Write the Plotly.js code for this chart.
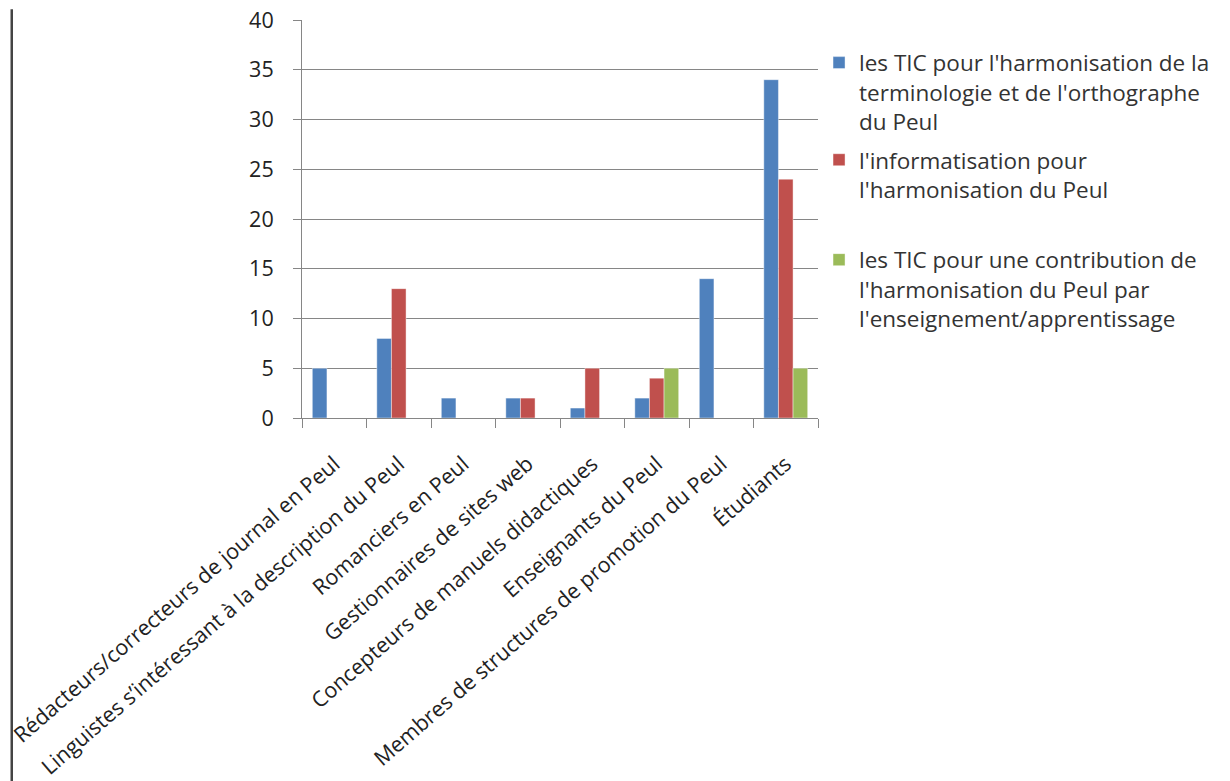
<!DOCTYPE html>
<html>
<head>
<meta charset="utf-8">
<script src="https://cdn.plot.ly/plotly-3.0.1.min.js"></script>
<style>
  html, body { margin: 0; padding: 0; background: #fff; }
  #chart { width: 1230px; height: 781px; }
</style>
</head>
<body>
<div id="chart"></div>
<script>
// Catégories de répondants
const categories = [
  "Rédacteurs/correcteurs de journal en Peul",
  "Linguistes s\u2019intéressant à la description du Peul",
  "Romanciers en Peul",
  "Gestionnaires de sites web",
  "Concepteurs de manuels didactiques",
  "Enseignants du Peul",
  "Membres de structures de promotion du Peul",
  "Étudiants"
];

// Noms des séries
const seriesNames = [
  "les TIC pour l'harmonisation de la<br>terminologie et de l'orthographe<br>du Peul",
  "l'informatisation pour<br>l'harmonisation du Peul",
  "les TIC pour une contribution de<br>l'harmonisation du Peul par<br>l'enseignement/apprentissage"
];

// Effectifs par série
const ticHarmonisation = [5, 8, 2, 2, 1, 2, 14, 34];
const informatisation  = [0, 13, 0, 2, 5, 4, 0, 24];
const ticEnseignement  = [0, 0, 0, 0, 0, 5, 0, 5];

const colors = ["#4F81BD", "#C0504D", "#9BBB59"];
const FONT = "Open Sans, DejaVu Sans, sans-serif";

const values = [ticHarmonisation, informatisation, ticEnseignement];
const legendIds = ["legend", "legend2", "legend3"];

const traces = values.map((v, i) => ({
  type: "bar",
  x: categories,
  y: v,
  name: seriesNames[i],
  legend: legendIds[i],
  showlegend: true,
  marker: { color: colors[i], line: { width: 0.6, color: "rgba(255,255,255,0.7)" } },
  hoverinfo: "x+y"
}));

const legendBase = {
  xanchor: "left",
  yanchor: "top",
  x: 1.002,
  bgcolor: "rgba(0,0,0,0)",
  borderwidth: 0,
  valign: "top",
  itemwidth: 30,
  font: { family: FONT, size: 22.5, color: "#333" }
};

const layout = {
  width: 1230,
  height: 781,
  showlegend: true,
  margin: { l: 302, r: 412, t: 20, b: 363, pad: 0 },
  paper_bgcolor: "#fff",
  plot_bgcolor: "#fff",
  bargap: 0.32,
  bargroupgap: 0,
  barmode: "group",
  font: { family: FONT, size: 20, color: "#222" },
  xaxis: {
    type: "category",
    tickangle: -41,
    tickson: "boundaries",
    ticks: "outside",
    ticklen: 9,
    tickcolor: "#868686",
    ticklabelstandoff: 24,
    showline: true,
    linecolor: "#868686",
    linewidth: 1,
    showgrid: false,
    tickfont: { family: FONT, size: 21.5, color: "#222" },
    automargin: false
  },
  yaxis: {
    range: [0, 40],
    dtick: 5,
    ticks: "outside",
    ticklen: 8,
    tickcolor: "#868686",
    ticklabelstandoff: 15,
    showline: true,
    linecolor: "#868686",
    linewidth: 1,
    showgrid: true,
    gridcolor: "#868686",
    gridwidth: 1,
    zeroline: false,
    tickfont: { family: FONT, size: 21.5, color: "#222" },
    automargin: false
  },
  legend:  Object.assign({}, legendBase, { y: 0.946 }),
  legend2: Object.assign({}, legendBase, { y: 0.702 }),
  legend3: Object.assign({}, legendBase, { y: 0.451 }),
  shapes: [{
    type: "line",
    xref: "paper", yref: "paper",
    x0: -0.5625, x1: -0.5625,
    y0: 1.027, y1: -0.92,
    line: { color: "#444", width: 2.5 }
  }]
};

Plotly.newPlot("chart", traces, layout, { displayModeBar: false, responsive: false });
</script>
</body>
</html>
